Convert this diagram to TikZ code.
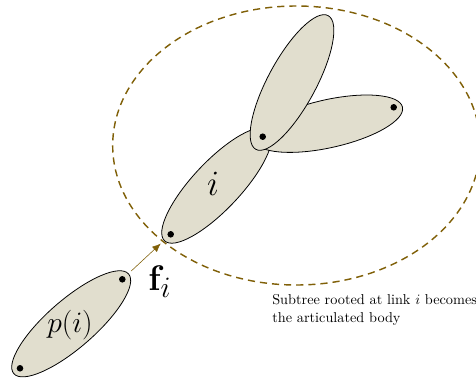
\documentclass[tikz,border=0pt]{standalone}
\usetikzlibrary{shapes.geometric,arrows.meta}
\definecolor{linkfill}{RGB}{225,222,206}
\definecolor{olivedk}{RGB}{128,96,8}
\begin{document}
\begin{tikzpicture}[x=0.7pt,y=-0.7pt,
  linkbody/.style={ellipse, draw=black, line width=0.55pt, fill=linkfill,
    minimum width=106.4pt, minimum height=33.6pt, inner sep=0pt},
  joint/.style={circle, fill=black, inner sep=0pt, minimum size=4.6pt},
  subtree/.style={ellipse, draw=olivedk, line width=1pt,
    dash pattern=on 5pt off 3.5pt, minimum width=257.2pt, minimum height=195.3pt, inner sep=0pt},
  force/.style={draw=olivedk, line width=0.4pt, -{Latex[length=6pt,width=5pt]}, olivedk},
  biglabel/.style={inner sep=0pt}]
\useasboundingbox (0,0) rectangle (476,381);

% subtree boundary
\node[subtree] (body) at (296.4,145.5) {};

% links
\node[linkbody, rotate=41] (parent) at (71.2,323.8) {};
\node[linkbody, rotate=46.7] (linki) at (216.7,185.5) {};
\node[linkbody, rotate=12.6] (childr) at (328.3,123.7) {};
\node[linkbody, rotate=61.6] (childt) at (292,82.5) {};

% joints
\node[joint] (pa) at (20,368.3) {};
\node[joint] (pb) at (122.3,279.3) {};
\node[joint] (ia) at (170.7,234.3) {};
\node[joint] (ib) at (262.7,136.7) {};
\node[joint] (rb) at (393.7,107.3) {};

% force arrow
\draw[force, shorten <=6pt, shorten >=7pt] (pb) -- (ia);

% labels
\node[biglabel, font=\huge] (plabel) at (70,325) {$p(i)$};
\node[biglabel, font=\Huge] (ilabel) at (213,184) {$i$};
\node[biglabel, anchor=base west, font=\Huge] (flabel) at (148,290) {$\mathbf{f}_i$};
\node[inner sep=0pt, anchor=north west, align=left, font=\fontsize{10}{12.6}\selectfont] (note) at (272,294.3)
  {Subtree rooted at link $i$ becomes\\the articulated body};
\end{tikzpicture}
\end{document}
